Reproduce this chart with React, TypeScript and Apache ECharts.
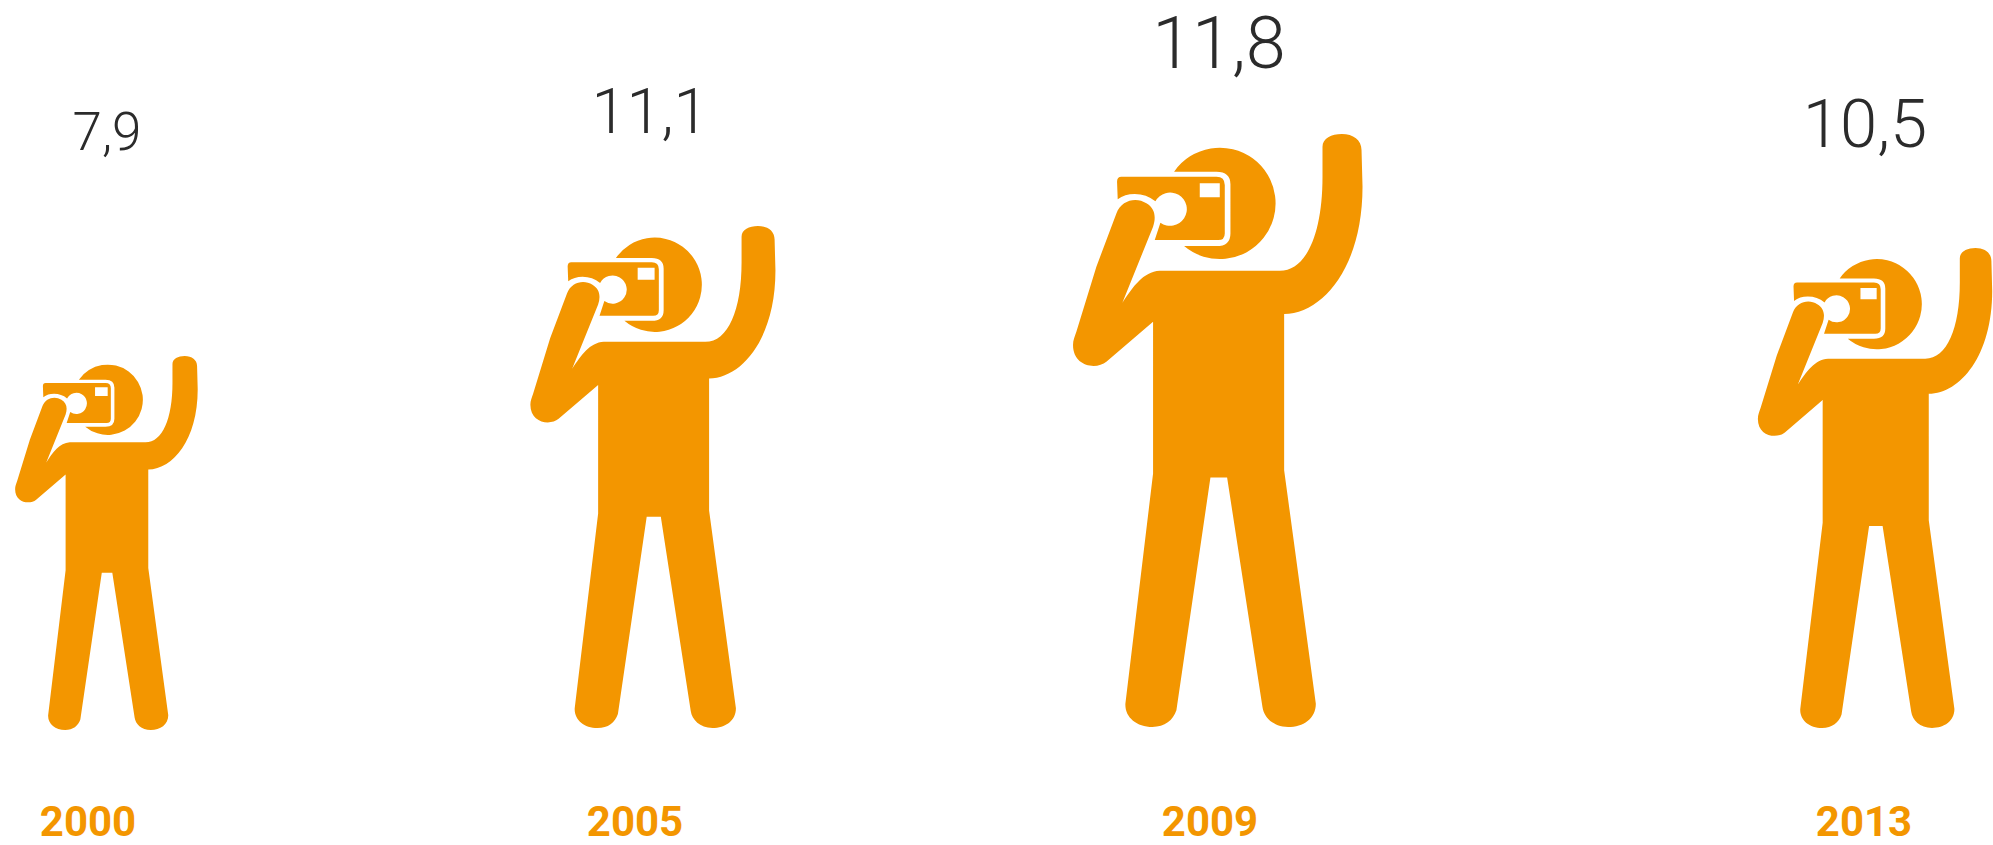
import React, { useEffect, useRef } from "react";
import * as echarts from "echarts";

const years = ["2000", "2005", "2009", "2013"];
const values = [7.9, 11.1, 11.8, 10.5];
// Drawn height of each figure, on the hidden y axis.
const figureHeights = [374, 502, 593, 480];

const ORANGE = "#F39600";
const INK = "#2b2b2b";
const CANVAS_W = 1993;
const CANVAS_H = 845;
const BASELINE = 728;

// Layout only: offset from the category centre and text placement.
const layout = [
  { dx: -234, foot: 2, valueX: 107, valueY: 132, valueSize: 53, yearX: 88, yearY: 821.5 },
  { dx: -217, foot: 0, valueX: 650, valueY: 111, valueSize: 63, yearX: 635, yearY: 821.5 },
  { dx: -172.6, foot: -1, valueX: 1219, valueY: 43, valueSize: 72, yearX: 1210, yearY: 821.5 },
  { dx: 14, foot: 0, valueX: 1865, valueY: 124, valueSize: 67, yearX: 1864, yearY: 821.5 },
];

const FIG_W = 868;
const FIG_H = 1778;
const figurePath = [
  // head
  "M403 515 A167 167 0 1 1 433 738 L530 738 Q572 738 572 700 L572 553 Q572 515 530 515 Z",
  // camera with lens notch and arm notch
  "M245 530 L530 530 Q555 530 555 555 L555 700 Q555 720 535 720 L345 720 L362 668 A50 50 0 1 0 347 604 Q320 582 285 582 Q255 582 234 598 L232 545 Q232 530 245 530 Z",
  // viewfinder
  "M480 550 L480 592 L540 592 L540 550 Z",
  // body, arms and legs
  "M848 440 C848 415 875 402 906 402 C940 402 965 420 965 450 L968 560 C968 800 850 940 733 942 L733 1410 L828 2110 C828 2155 790 2180 745 2180 C700 2180 672 2150 668 2120 L562 1432 L512 1432 L410 2130 C400 2160 375 2180 338 2180 C290 2180 255 2150 257 2110 L340 1420 L340 965 L200 1085 C170 1110 100 1100 100 1035 C100 1020 105 1010 110 995 L170 800 L230 640 C245 600 290 590 320 610 C345 625 350 650 340 680 L248 908 C280 860 310 815 360 812 L720 812 C800 812 848 700 848 530 Z",
].join(" ");

export default function App() {
  const ref = useRef<HTMLDivElement>(null);
  useEffect(() => {
    const chart = echarts.init(ref.current!, undefined, { renderer: "svg" });
    chart.setOption({
      animation: false,
      backgroundColor: "#ffffff",
      grid: { left: 0, right: 0, top: 0, bottom: CANVAS_H - BASELINE },
      xAxis: { type: "category", data: years, show: false },
      yAxis: { type: "value", min: 0, max: BASELINE, show: false },
      series: [
        {
          type: "custom",
          clip: false,
          data: years.map((_, i) => [i, figureHeights[i], values[i]]),
          encode: { x: 0, y: 1 },
          renderItem: (params: any, api: any) => {
            const i = api.value(0);
            const l = layout[i];
            const top = api.coord([i, api.value(1)]);
            const base = api.coord([i, 0]);
            const h = base[1] - top[1];
            const w = (h * FIG_W) / FIG_H;
            const label = String(api.value(2)).replace(".", ",");
            return {
              type: "group",
              children: [
                {
                  type: "path",
                  shape: {
                    pathData: figurePath,
                    x: base[0] + l.dx,
                    y: top[1] + l.foot,
                    width: w,
                    height: h,
                    layout: "cover",
                  },
                  style: { fill: ORANGE },
                },
                {
                  type: "text",
                  style: {
                    x: l.valueX,
                    y: l.valueY,
                    text: label,
                    fill: INK,
                    font: `300 ${l.valueSize}px Roboto`,
                    align: "center",
                    verticalAlign: "middle",
                  },
                },
                {
                  type: "text",
                  style: {
                    x: l.yearX,
                    y: l.yearY,
                    text: years[i],
                    fill: ORANGE,
                    font: `700 42px Roboto`,
                    align: "center",
                    verticalAlign: "middle",
                  },
                },
              ],
            };
          },
        },
      ],
    });
    return () => chart.dispose();
  }, []);
  return (
    <div
      ref={ref}
      style={{ position: "absolute", left: 0, top: 0, width: CANVAS_W, height: CANVAS_H }}
    />
  );
}
